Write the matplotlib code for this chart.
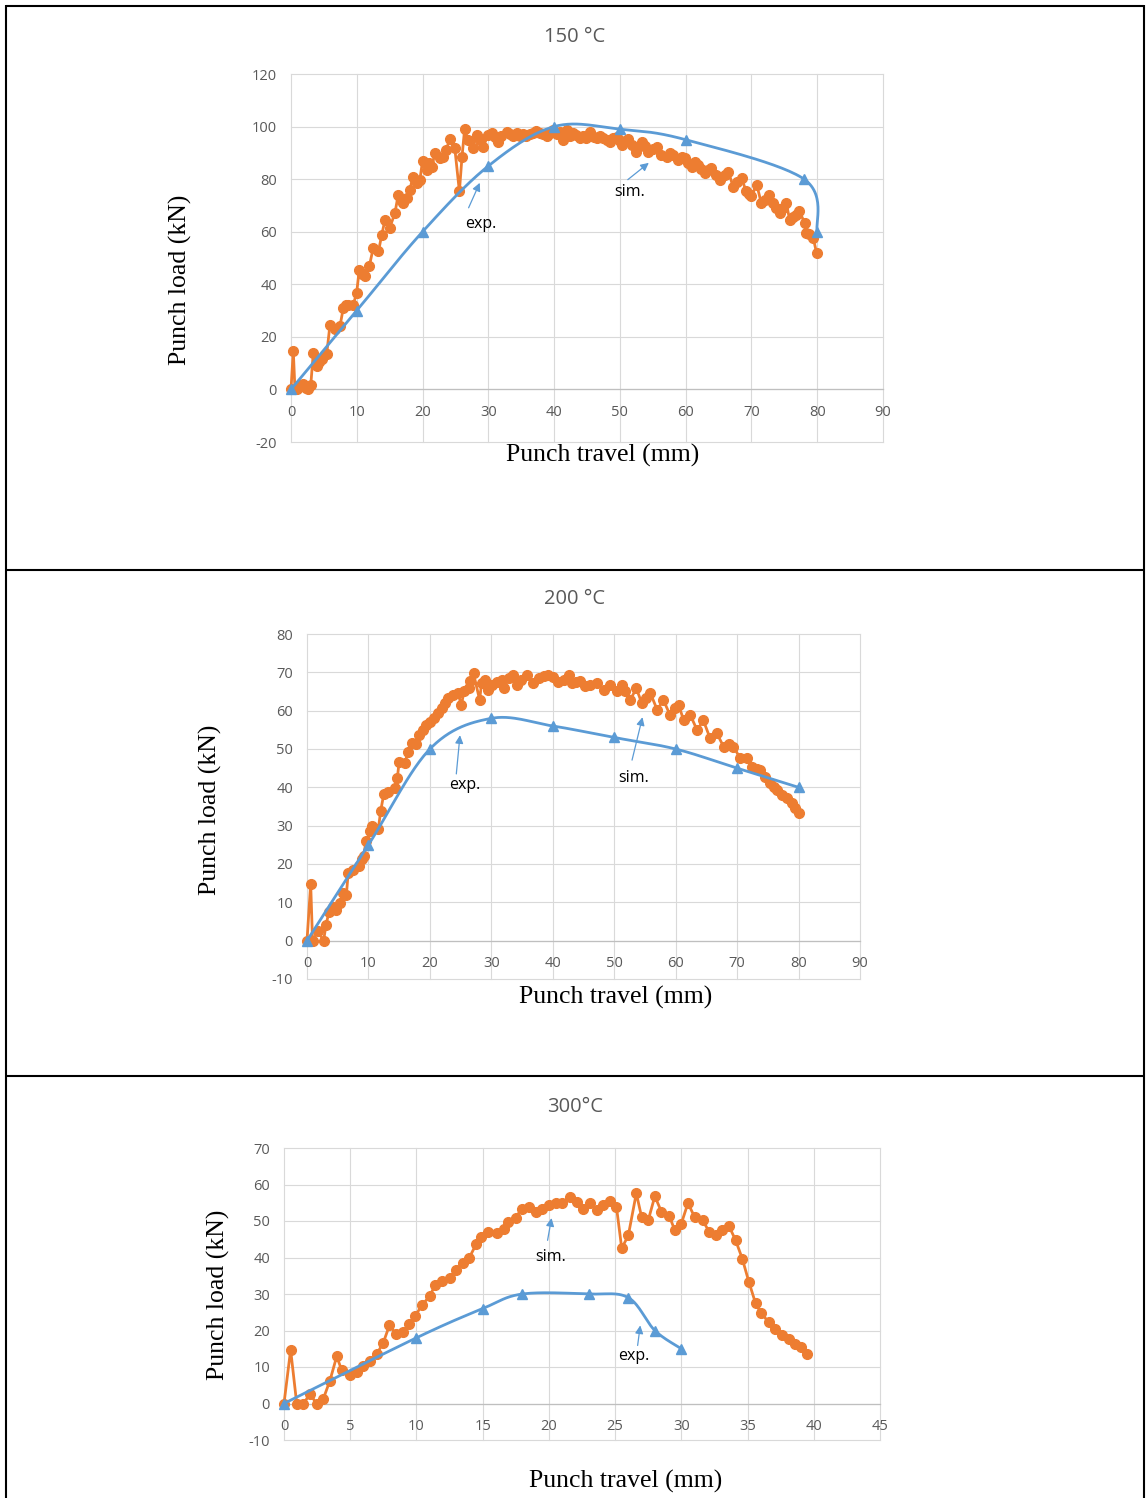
import numpy as np
import matplotlib
matplotlib.use("Agg")
import matplotlib.pyplot as plt
from matplotlib.lines import Line2D

plt.rcParams["axes.unicode_minus"] = False

# 150 C panel
p1_exp_x = [0, 0.35, 0.6, 0.86, 1.3, 1.87, 2.3, 2.64, 3.0, 3.39,
            3.9, 4.3, 4.66, 5.42, 5.93, 6.69, 7.45, 7.95, 8.3, 8.71,
            9.47, 9.98, 10.38, 10.8, 11.2, 11.9, 12.5, 13.3, 13.8, 14.3,
            15.0, 15.8, 16.3, 16.7, 17.1, 17.6, 18.1, 18.5, 19.1, 19.6,
            20.0, 20.6, 21.0, 21.4, 21.9, 22.6, 23.1, 23.6, 24.1, 24.9,
            25.6, 26.0, 26.4, 26.9, 27.6, 28.3, 28.7, 29.2, 30.0, 30.5,
            31.0, 31.5, 32.0, 32.8, 33.3, 33.8, 34.3, 34.8, 35.3, 35.8,
            36.3, 36.8, 37.3, 37.8, 38.3, 38.9, 39.4, 39.9, 40.4, 40.9,
            41.4, 41.9, 42.4, 42.9, 43.4, 43.9, 44.4, 44.9, 45.4, 46.0,
            46.5, 47.0, 47.5, 48.0, 48.5, 49.0, 49.5, 50.0, 50.3, 50.8,
            51.3, 51.8, 52.5, 53.0, 53.3, 53.8, 54.3, 55.0, 55.6, 56.3,
            57.1, 57.6, 58.1, 58.9, 59.4, 59.9, 60.4, 60.9, 61.4, 61.9,
            62.4, 62.9, 63.4, 63.9, 64.6, 65.2, 66.0, 66.5, 67.2, 67.8,
            68.5, 69.2, 69.6, 70.0, 70.8, 71.5, 72.0, 72.6, 73.3, 73.8,
            74.3, 74.8, 75.3, 75.8, 76.3, 76.8, 77.3, 78.1, 78.3, 78.8,
            79.4, 79.9]
p1_exp_y = [0, 14.6, 0, 0, 1.5, 1.9, 0.5, 0, 1.5, 13.9,
            8.9, 10.5, 11.4, 13.3, 24.7, 22.8, 24.1, 31.0, 32.0, 32.3,
            32.3, 36.7, 45.6, 44.0, 43.0, 46.8, 53.8, 52.5, 58.9, 64.6,
            61.4, 67.1, 74.1, 72.0, 70.9, 72.8, 76.0, 81.0, 78.5, 79.8,
            87.0, 83.6, 86.0, 84.8, 89.9, 88.0, 88.6, 91.0, 95.2, 91.8,
            75.3, 88.6, 99.1, 95.0, 92.0, 96.8, 95.0, 92.4, 96.8, 97.7,
            96.0, 94.3, 96.5, 98.1, 97.0, 96.5, 97.5, 96.5, 97.0, 96.5,
            97.2, 97.5, 98.5, 97.6, 97.0, 96.5, 97.5, 98.7, 97.2, 98.1,
            95.0, 98.7, 96.5, 97.5, 96.8, 95.6, 96.5, 95.6, 98.1, 96.2,
            95.6, 96.5, 95.6, 95.0, 94.3, 95.5, 96.2, 94.5, 93.0, 94.5,
            95.2, 93.0, 90.5, 92.5, 94.3, 92.5, 90.5, 91.5, 92.4, 89.3,
            88.6, 90.0, 89.3, 87.4, 88.5, 88.0, 86.0, 84.8, 86.5, 85.5,
            84.0, 82.3, 83.5, 84.2, 81.5, 79.8, 81.7, 82.9, 77.2, 79.0,
            80.4, 75.3, 74.5, 73.4, 77.9, 70.9, 72.0, 74.1, 70.9, 69.0,
            67.1, 69.0, 70.9, 64.6, 65.5, 66.5, 67.7, 63.3, 59.5, 59.0,
            57.6, 51.9]
p1_sim_x = [0, 10, 20, 30, 40, 50, 60, 78, 80]
p1_sim_y = [0, 30, 60, 85, 100, 99, 95, 80, 60]

# 200 C panel
p2_exp_x = [0, 0.6, 0.9, 1.8, 2.7, 3.1, 3.6, 4.3, 4.8, 5.4,
            5.9, 6.4, 6.7, 7.5, 8.4, 8.9, 9.2, 9.6, 10.3, 10.5,
            11.6, 12.0, 12.5, 13.2, 14.3, 14.7, 15.0, 15.9, 16.5, 17.1,
            17.8, 18.3, 18.8, 19.4, 20.0, 20.7, 21.4, 21.9, 22.5, 23.0,
            23.8, 24.6, 25.1, 25.6, 26.3, 26.6, 27.1, 28.1, 28.4, 28.9,
            29.5, 30.1, 30.9, 31.7, 32.1, 32.8, 33.5, 34.2, 34.9, 35.8,
            36.7, 37.7, 38.5, 39.3, 40.1, 40.9, 41.8, 42.7, 43.1, 43.8,
            44.5, 45.3, 46.1, 47.2, 48.3, 49.3, 50.4, 51.2, 51.8, 52.6,
            53.6, 54.5, 55.2, 55.9, 57.0, 58.0, 59.1, 59.9, 60.5, 61.3,
            62.4, 63.5, 64.5, 65.6, 66.7, 67.8, 68.6, 69.4, 70.5, 71.6,
            72.4, 73.2, 73.8, 74.6, 75.4, 76.0, 76.5, 77.3, 78.1, 78.9,
            79.5, 80.0]
p2_exp_y = [0, 14.8, 0, 2.4, 0, 4.2, 7.6, 8.9, 8.1, 9.9,
            12.4, 11.8, 17.6, 18.5, 19.4, 21.2, 22.0, 25.9, 28.5, 30.0,
            29.1, 33.9, 38.3, 38.9, 39.8, 42.4, 46.7, 46.4, 49.3, 51.5,
            51.3, 53.6, 55.0, 56.2, 57.1, 58.1, 59.3, 60.6, 62.1, 63.4,
            64.0, 64.6, 61.4, 65.2, 65.8, 67.8, 69.7, 62.8, 67.1, 68.0,
            65.4, 66.7, 67.6, 68.1, 65.8, 68.6, 69.3, 66.7, 68.0, 69.3,
            67.3, 68.4, 69.0, 69.3, 68.8, 67.5, 68.0, 69.3, 67.1, 67.5,
            67.8, 66.5, 66.7, 67.1, 65.4, 66.7, 65.0, 66.7, 65.0, 62.8,
            65.8, 61.9, 63.4, 64.5, 60.2, 62.8, 58.8, 60.8, 61.4, 57.5,
            58.8, 54.9, 57.5, 52.8, 54.1, 50.6, 51.2, 50.6, 47.6, 47.6,
            45.4, 44.8, 44.5, 42.8, 41.0, 40.0, 39.3, 38.0, 37.1, 35.8,
            34.5, 33.2]
p2_sim_x = [0, 10, 20, 30, 40, 50, 60, 70, 80]
p2_sim_y = [0, 25, 50, 58, 56, 53, 50, 45, 40]

# 300 C panel
p3_exp_x = [0, 0.5, 0.96, 1.46, 1.96, 2.47, 2.97, 3.47, 3.98, 4.36,
            4.98, 5.49, 5.99, 6.5, 7.0, 7.5, 7.96, 8.46, 9.0, 9.47,
            9.9, 10.4, 11.0, 11.4, 11.9, 12.5, 13.0, 13.5, 14.0, 14.5,
            14.9, 15.4, 16.1, 16.6, 16.9, 17.5, 17.95, 18.5, 19.0, 19.5,
            20.0, 20.5, 21.0, 21.6, 22.1, 22.6, 23.1, 23.6, 24.1, 24.6,
            25.1, 25.5, 26.0, 26.6, 27.0, 27.5, 28.0, 28.5, 29.1, 29.5,
            30.0, 30.5, 31.0, 31.6, 32.1, 32.6, 33.1, 33.6, 34.1, 34.6,
            35.1, 35.6, 36.0, 36.6, 37.1, 37.6, 38.1, 38.6, 39.0, 39.5]
p3_exp_y = [0, 14.7, 0, 0, 2.5, 0, 1.3, 6.3, 12.9, 9.1,
            7.7, 8.6, 10.4, 11.7, 13.5, 16.7, 21.4, 19.1, 19.5, 21.8,
            23.9, 26.9, 29.4, 32.4, 33.6, 34.5, 36.7, 38.5, 40.0, 43.6,
            45.5, 47.0, 46.6, 47.9, 49.8, 50.9, 53.4, 53.9, 52.5, 53.3,
            54.4, 54.8, 54.8, 56.6, 55.3, 53.4, 55.0, 53.1, 54.3, 55.5,
            53.9, 42.5, 46.1, 57.6, 51.1, 50.2, 56.8, 52.5, 51.3, 47.5,
            49.3, 54.9, 51.1, 50.2, 47.1, 46.3, 47.5, 48.6, 44.7, 39.7,
            33.3, 27.5, 24.8, 22.3, 20.5, 18.7, 17.8, 16.2, 15.5, 13.6]
p3_sim_x = [0, 10, 15, 18, 23, 26, 28, 30]
p3_sim_y = [0, 18, 26, 30, 30, 29, 20, 15]

titles = ["150 °C", "200 °C", "300°C"]

W, H = 1146, 1498
ORANGE = "#ED7D31"
BLUE = "#5B9BD5"
GREY_TXT = "#595959"
GRID = "#D9D9D9"


def fx(px):
    return px / W


def fy(py):
    return 1 - py / H


def smooth(xs, ys, n=30):
    """Excel style smoothed line (Catmull-Rom as cubic Bezier)."""
    p = np.column_stack([xs, ys]).astype(float)
    p = np.vstack([p[0], p, p[-1]])
    out = []
    t = np.linspace(0, 1, n)[:, None]
    for i in range(1, len(p) - 2):
        a, b = p[i], p[i + 1]
        c1 = a + (p[i + 1] - p[i - 1]) / 6
        c2 = b - (p[i + 2] - p[i]) / 6
        seg = ((1 - t) ** 3) * a + 3 * ((1 - t) ** 2) * t * c1 \
            + 3 * (1 - t) * t ** 2 * c2 + t ** 3 * b
        out.append(seg)
    seg = np.vstack(out)
    return seg[:, 0], seg[:, 1]


def make_panel(fig, box, xlim, xstep, ylim, ystep, exp_x, exp_y, sim_x, sim_y):
    l, t, r, b = box
    ax = fig.add_axes([fx(l), fy(b), (r - l) / W, (b - t) / H])
    ax.set_xlim(*xlim)
    ax.set_ylim(*ylim)
    ax.set_xticks(np.arange(xlim[0], xlim[1] + 0.1, xstep))
    ax.set_yticks(np.arange(ylim[0], ylim[1] + 0.1, ystep))
    for s in ["top", "right", "left"]:
        ax.spines[s].set_visible(False)
    ax.spines["bottom"].set_position(("data", 0))
    ax.spines["bottom"].set_color("#BFBFBF")
    ax.spines["bottom"].set_linewidth(0.9)
    ax.grid(True, color=GRID, linewidth=0.8)
    ax.set_axisbelow(True)
    ax.tick_params(length=0, labelsize=10.5, labelcolor=GREY_TXT)
    ax.tick_params(axis="x", pad=11)
    ax.tick_params(axis="y", pad=10)
    for lab in ax.get_xticklabels() + ax.get_yticklabels():
        lab.set_family("Open Sans")
    for gl in ax.get_xgridlines() + ax.get_ygridlines():
        gl.set_clip_on(False)

    ax.plot(exp_x, exp_y, color=ORANGE, lw=2.0, marker="o", ms=7,
            mec=ORANGE, mfc=ORANGE, zorder=3, clip_on=False)
    sx, sy = smooth(sim_x, sim_y)
    ax.plot(sx, sy, color=BLUE, lw=2.0, zorder=4, clip_on=False)
    ax.plot(sim_x, sim_y, ls="none", marker="^", ms=7.5, color=BLUE,
            zorder=4, clip_on=False)
    return ax


def note(ax, text, tx, ty, tail, head):
    ax.text(tx, ty, text, ha="center", va="center", fontsize=11.5,
            family="Open Sans", color="black", zorder=5)
    ax.annotate("", xy=head, xytext=tail,
                arrowprops=dict(arrowstyle="-|>", color=BLUE, lw=0.9,
                                mutation_scale=12, shrinkA=0, shrinkB=0),
                zorder=5)


fig = plt.figure(figsize=(W / 100, H / 100), dpi=100)

ax1 = make_panel(fig, (291, 74, 883, 442), (0, 90), 10, (-20, 120), 20,
                 p1_exp_x, p1_exp_y, p1_sim_x, p1_sim_y)
note(ax1, "exp.", 28.9, 63.0, (27.0, 69.1), (28.7, 78.6))
note(ax1, "sim.", 51.5, 75.2, (51.2, 79.8), (54.4, 86.2))

ax2 = make_panel(fig, (307, 634, 860, 979), (0, 90), 10, (-10, 80), 10,
                 p2_exp_x, p2_exp_y, p2_sim_x, p2_sim_y)
note(ax2, "exp.", 25.7, 40.6, (24.3, 43.5), (24.9, 53.6))
note(ax2, "sim.", 53.1, 42.4, (52.9, 47.1), (54.6, 58.3))

ax3 = make_panel(fig, (284, 1148, 880, 1440), (0, 45), 5, (-10, 70), 10,
                 p3_exp_x, p3_exp_y, p3_sim_x, p3_sim_y)
note(ax3, "sim.", 20.1, 40.1, (19.9, 44.7), (20.2, 50.8))
note(ax3, "exp.", 26.4, 12.9, (26.7, 15.9), (26.9, 21.4))

# titles and axis labels in figure pixels
title_pos = [(575, 37), (575, 599), (575, 1107)]
ylab_pos = [(180, 280), (210, 810), (218, 1295)]
xlab_pos = [(603, 455), (616, 997), (626, 1481)]
for ttl, (tx, ty), (yx, yy), (xx, xy) in zip(titles, title_pos, ylab_pos, xlab_pos):
    fig.text(fx(tx), fy(ty), ttl, ha="center", va="center", fontsize=14.5,
             color=GREY_TXT, family="Open Sans")
    fig.text(fx(yx), fy(yy), "Punch load (kN)", ha="center", va="center",
             rotation=90, fontsize=18.5, family="Liberation Serif")
    fig.text(fx(xx), fy(xy), "Punch travel (mm)", ha="center", va="center",
             fontsize=18.5, family="Liberation Serif")

# table borders
border = dict(color="black", lw=1.5, solid_capstyle="butt")
fig.add_artist(Line2D([fx(6), fx(6)], [fy(5), fy(1498)], **border))
fig.add_artist(Line2D([fx(1144), fx(1144)], [fy(5), fy(1498)], **border))
for yy in [6, 570, 1076]:
    fig.add_artist(Line2D([fx(6), fx(1144)], [fy(yy), fy(yy)], **border))

fig.savefig("out.png", dpi=100, facecolor="white")
